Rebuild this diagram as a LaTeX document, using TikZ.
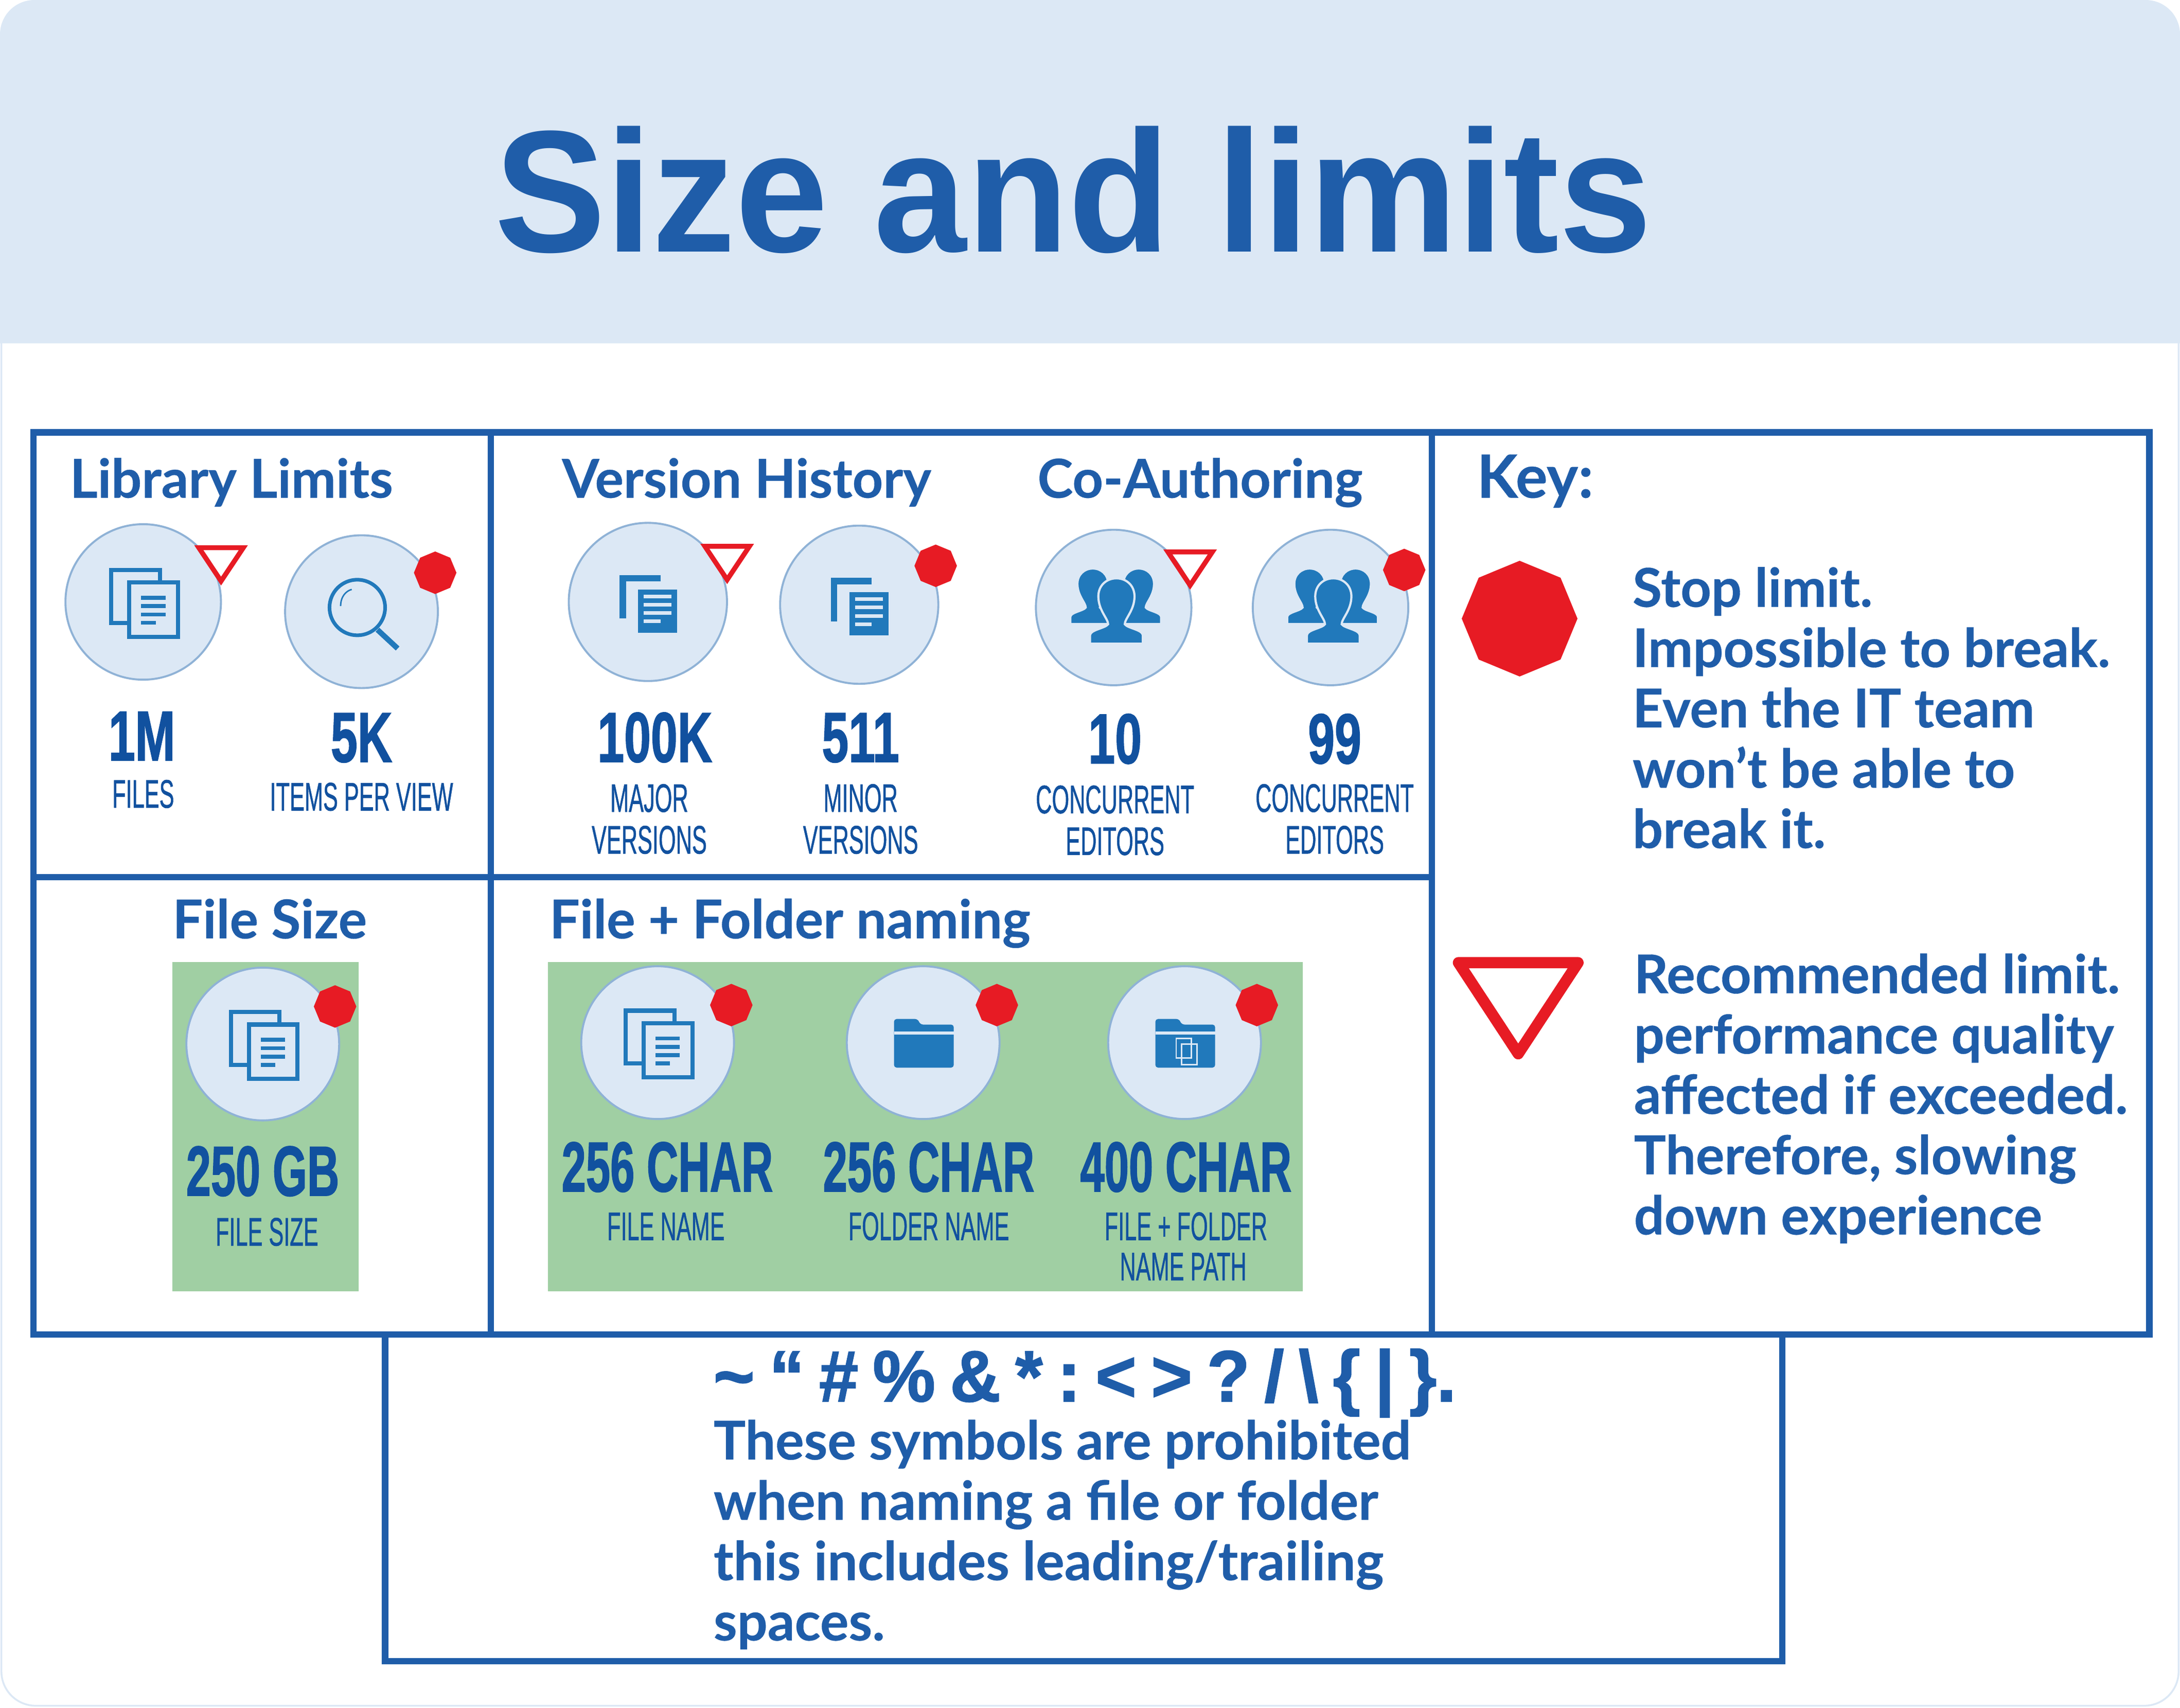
\documentclass[tikz,border=0pt]{standalone}
\usepackage{graphicx}
\usepackage{fontspec}
\setmainfont{Lato}[BoldFeatures={FakeBold=.35}]
\newfontfamily\titlefont{Liberation Sans}
\newfontfamily\condfont{Liberation Sans}[FakeBold=1.6]
\newfontfamily\labelfont{Liberation Sans}[FakeBold=1]
\usetikzlibrary{shapes.geometric}

\definecolor{headblue}{HTML}{DCE8F5}
\definecolor{lineblue}{HTML}{1F5DA9}
\definecolor{numblue}{HTML}{11519F}
\definecolor{iconblue}{HTML}{2179BB}
\definecolor{ringblue}{HTML}{8FB2D6}
\definecolor{stopred}{HTML}{E71B24}
\definecolor{limitgreen}{HTML}{A0CFA3}

\newcommand{\squeezed}[2][.56]{\scalebox{#1}[1]{#2}}
\newcommand{\gap}{\hspace{.21em}}

\tikzset{
  frameline/.style={lineblue, line width=3.5pt},
  headtext/.style={anchor=base west, inner sep=0pt, text=lineblue, font=\bfseries\fontsize{29.6}{34}\selectfont},
  keytext/.style={anchor=base west, inner sep=0pt, align=left, text=lineblue, font=\bfseries\fontsize{29.6}{33.35}\selectfont},
  bignum/.style={anchor=base, inner sep=0pt, text=numblue, font=\condfont\bfseries\fontsize{39}{39}\selectfont},
  smalllabel/.style={anchor=base, inner sep=0pt, align=center, text=numblue, font=\labelfont\fontsize{22}{23}\selectfont},
  badge/.style={circle, draw=ringblue, fill=headblue, line width=1.1pt, inner sep=0pt},
  stopsign/.style={regular polygon, regular polygon sides=8, shape border rotate=22.5, fill=stopred, inner sep=0pt, minimum size=23.5pt},
  redline/.style={stopred, line width=2.7pt, line join=miter},
  docs/.pic={
    \draw[iconblue, line width=2.3pt, fill=headblue] (-23,-23) rectangle (12,15);
    \draw[iconblue, line width=2.3pt, fill=headblue] (-10,-14) rectangle (25,25);
    \foreach \y in {-3,3,9} \draw[iconblue, line width=2.2pt] (-1.5,\y) -- (16,\y);
    \draw[iconblue, line width=2.2pt] (-1.5,15) -- (9,15);
  },
  soliddocs/.pic={
    \draw[iconblue, line width=3.5pt] (-18,12) -- (-18,-17) -- (9,-17);
    \fill[iconblue] (-7,-9) rectangle (21,22);
    \foreach \y in {-4,2,8} \draw[headblue, line width=2pt] (-3,\y) -- (17,\y);
    \draw[headblue, line width=2pt] (-3,14) -- (9,14);
  },
  lens/.pic={
    \draw[iconblue, line width=2pt] (-3,-3) circle (20);
    \draw[iconblue, line width=3pt] (11.5,13) -- (26,26.5);
    \draw[iconblue, line width=.8pt] (-15,-4) .. controls (-15,-11) and (-11,-15) .. (-7,-16);
  },
  person/.pic={
    \draw[iconblue, fill=iconblue, draw=headblue, line width=1.2pt] (-19,34) -- (-19,28) .. controls (-19,24) and (-8,23) .. (-6,20)
      .. controls (-6,16) and (-13,10) .. (-13,0) .. controls (-13,-8) and (-7,-13) .. (0,-13)
      .. controls (7,-13) and (13,-8) .. (13,0) .. controls (13,10) and (6,16) .. (6,20)
      .. controls (8,23) and (19,24) .. (19,28) -- (19,34) -- cycle;
  },
  people/.pic={
    \pic[scale=.85] at (-15,-17) {person};
    \pic[scale=.85] at (18,-17) {person};
    \pic at (2,-8) {person};
  },
  folder/.pic={
    \fill[iconblue, rounded corners=1.5pt] (-21,18) -- (-21,-17) -- (-4,-17) -- (-2,-13) -- (22,-13) -- (22,18) -- cycle;
    \draw[headblue, line width=1.8pt] (-21,-7) -- (22,-7);
  },
  yield/.pic={
    \draw[redline] (-16,-12) -- (16,-12) -- (0,12) -- cycle;
  },
}

\begin{document}
\begin{tikzpicture}[x=0.02702cm, y=-0.02702cm]
\useasboundingbox (0,0) rectangle (1568,1228.3);

% page and header
\draw[headblue, fill=white, line width=1pt, rounded corners=19pt] (1,1) rectangle (1567,1227);
\fill[headblue] (0,247) [rounded corners=19pt] -- (0,0) -- (1568,0) [sharp corners] -- (1568,247) -- cycle;
\node[anchor=base, inner sep=0pt, text=lineblue, font=\titlefont\bfseries\fontsize{96}{96}\selectfont] (title) at (772,181) {\squeezed[.96]{Size and limits}};

% green panels
\fill[limitgreen] (124,692) rectangle (258,929);
\fill[limitgreen] (394,692) rectangle (937,929);

% frames
\draw[frameline] (24,311) rectangle (1546,960);
\draw[frameline] (353,311) -- (353,960);
\draw[frameline] (1030,311) -- (1030,960);
\draw[frameline] (24,631) -- (1030,631);
\draw[frameline] (277,960) -- (277,1195) -- (1282,1195) -- (1282,960);

% section titles
\node[headtext] (library) at (50,358) {Library Limits};
\node[headtext] (version) at (404,358) {Version History};
\node[headtext] (coauth) at (746,358) {Co-Authoring};
\node[headtext, font=\bfseries\fontsize{33}{34}\selectfont] (keytitle) at (1062,358) {Key:};
\node[headtext, anchor=base] (filesize) at (194,675) {File Size};
\node[headtext] (naming) at (395,675) {File + Folder naming};

% badges
\foreach \name/\x/\y/\d in {files/103/433/86, items/260/440/84.5, major/466/433/87.5, minor/618/435/87.5, edita/801/437/86, editb/957/437/86,
                            size/189/751/84.5, fname/473/750/84.5, dname/664/750/84.5, pname/852/750/84.5}
  \node[badge, minimum size=\d pt] (\name) at (\x,\y) {};

% icons
\pic at (files) {docs};
\pic at (items) {lens};
\pic at (major) {soliddocs};
\pic at (minor) {soliddocs};
\pic at (edita) {people};
\pic at (editb) {people};
\pic at (size) {docs};
\pic at (fname) {docs};
\pic at (dname) {folder};
\pic at (pname) {folder};
\draw[headblue, line width=.8pt] (846,747) rectangle (857,761);
\draw[headblue, line width=.8pt] (850,751) rectangle (861,766);

% limit marks
\foreach \name/\x/\y in {items/313/412, minor/673/407, editb/1010/410, size/241/724, fname/526/723, dname/717/723, pname/904/723}
  \node[stopsign] (stop\name) at (\x,\y) {};
\foreach \name/\x/\y in {files/159/406, major/523/405, editb/856/409}
  \pic (rec\name) at (\x,\y) {yield};

% numbers
\node[bignum] (nfiles) at (102,547) {\squeezed[.68]{1M}};
\node[bignum] (nitems) at (260,548) {\squeezed[.68]{5K}};
\node[bignum] (nmajor) at (471,548) {\squeezed[.68]{100K}};
\node[bignum] (nminor) at (619,548) {\squeezed[.68]{511}};
\node[bignum] (neditA) at (802,549) {\squeezed[.68]{10}};
\node[bignum] (neditB) at (960,549) {\squeezed[.68]{99}};
\node[bignum] (nsize) at (189,860) {\squeezed[.63]{250 GB}};
\node[bignum] (nfname) at (480,857) {\squeezed[.62]{256 CHAR}};
\node[bignum] (ndname) at (668,857) {\squeezed[.62]{256 CHAR}};
\node[bignum] (npname) at (853,857) {\squeezed[.62]{400 CHAR}};

% small labels
\node[smalllabel] (lfiles) at (103,581) {\squeezed{FILES}};
\node[smalllabel] (litems) at (260,583) {\squeezed{ITEMS PER VIEW}};
\node[smalllabel] (lmajora) at (467,584) {\squeezed{MAJOR}};
\node[smalllabel] (lmajorb) at (467,614) {\squeezed{VERSIONS}};
\node[smalllabel] (lminora) at (619,584) {\squeezed{MINOR}};
\node[smalllabel] (lminorb) at (619,614) {\squeezed{VERSIONS}};
\node[smalllabel] (leditaa) at (802,585) {\squeezed{CONCURRENT}};
\node[smalllabel] (leditab) at (802,615) {\squeezed{EDITORS}};
\node[smalllabel] (leditba) at (960,584) {\squeezed{CONCURRENT}};
\node[smalllabel] (leditbb) at (960,614) {\squeezed{EDITORS}};
\node[smalllabel] (lsize) at (192,896) {\squeezed{FILE SIZE}};
\node[smalllabel] (lfname) at (479,892) {\squeezed{FILE NAME}};
\node[smalllabel] (ldname) at (668,892) {\squeezed{FOLDER NAME}};
\node[smalllabel] (lpnamea) at (853,892) {\squeezed{FILE + FOLDER}};
\node[smalllabel] (lpnameb) at (851,921) {\squeezed{NAME PATH}};

% key
\node[stopsign, minimum size=64pt] (keystop) at (1093,445) {};
\node[keytext] (stoptext) at (1174,610) {Stop limit.\\Impossible to break.\\Even the IT team\\won’t be able to\\break it.};
\coordinate (keya) at (1049,692.5);
\coordinate (keyb) at (1135,692.5);
\coordinate (keyc) at (1092,758);
\draw[redline, line width=6.2pt, line join=round] (keya) -- (keyb) -- (keyc) -- cycle;
\node[keytext] (rectext) at (1175,888) {Recommended limit.\\performance quality\\affected if exceeded.\\Therefore, slowing\\down experience};

% prohibited symbols
\node[anchor=base west, inner sep=0pt, text=lineblue, font=\condfont\bfseries\fontsize{40}{40}\selectfont] (symbols) at (513,1008)
  {\squeezed[.97]{\textasciitilde\gap“\gap\#\gap\%\gap\&\gap*\gap:\gap<\gap>\gap?\gap/\gap\textbackslash\gap\{\gap|\gap\}.}};
\node[keytext] (symtext) at (513,1180) {These symbols are prohibited\\when naming a file or folder\\this includes leading/trailing\\spaces.};

\end{tikzpicture}
\end{document}
